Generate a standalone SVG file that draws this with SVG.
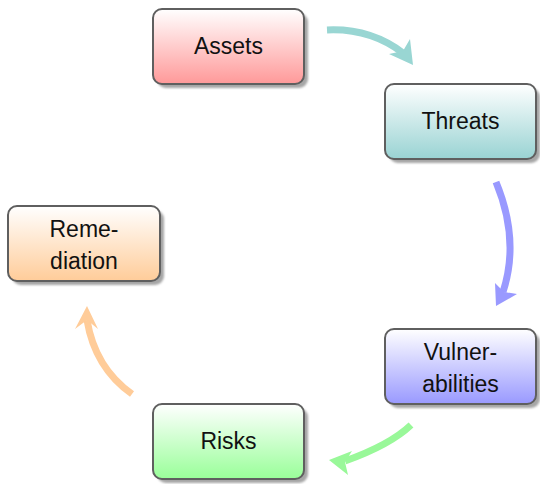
<svg xmlns="http://www.w3.org/2000/svg" width="540" height="484" viewBox="0 0 540 484">
<defs>
<linearGradient id="gRed" x1="0" y1="0" x2="0" y2="1"><stop offset="0" stop-color="#ffffff"/><stop offset="1" stop-color="#ff9999"/></linearGradient>
<linearGradient id="gTeal" x1="0" y1="0" x2="0" y2="1"><stop offset="0" stop-color="#ffffff"/><stop offset="1" stop-color="#99d3d3"/></linearGradient>
<linearGradient id="gBlue" x1="0" y1="0" x2="0" y2="1"><stop offset="0" stop-color="#ffffff"/><stop offset="1" stop-color="#9999ff"/></linearGradient>
<linearGradient id="gGreen" x1="0" y1="0" x2="0" y2="1"><stop offset="0" stop-color="#ffffff"/><stop offset="1" stop-color="#99ff99"/></linearGradient>
<linearGradient id="gOrange" x1="0" y1="0" x2="0" y2="1"><stop offset="0" stop-color="#ffffff"/><stop offset="1" stop-color="#ffcc99"/></linearGradient>
<filter id="blur" x="-10%" y="-10%" width="120%" height="120%"><feGaussianBlur stdDeviation="0.8"/></filter>
</defs>
<style>
.shadow{fill:#a6a6a6;filter:url(#blur)}
.box{stroke:#5f5f5f;stroke-width:2}
.lbl{font-family:"Liberation Sans",Arial,sans-serif;font-size:23px;fill:#111;text-anchor:middle}
.shaft{fill:none;stroke-width:7;stroke-linecap:butt}
</style>
<g id="connectors">
<g id="e1">
<path class="shaft" d="M327,30 Q370,28 403,53" stroke="#99d6d3"/>
<polygon points="413,65 389,54 403,51 410,39" fill="#99d6d3"/>
</g>
<g id="e2">
<path class="shaft" d="M496,182 Q520,240 503,292" stroke="#9999ff"/>
<polygon points="496,306 495,283 504,292 517,294" fill="#9999ff"/>
</g>
<g id="e3">
<path class="shaft" d="M411,425 Q390,445 345,461" stroke="#99f899"/>
<polygon points="329,460 352,451 345,462 348,475" fill="#99f899"/>
</g>
<g id="e4">
<path class="shaft" d="M132,394 Q95,368 87,320" stroke="#ffcc99"/>
<polygon points="87,306 75,329 87,320 98,329" fill="#ffcc99"/>
</g>
</g>
<g id="assets">
<rect class="shadow" x="157" y="13" width="151" height="75" rx="9"/>
<rect class="box" x="153" y="9" width="151" height="75" rx="9" fill="url(#gRed)"/>
<text class="lbl" x="228.5" y="54">Assets</text>
</g>
<g id="threats">
<rect class="shadow" x="389" y="88" width="151" height="75" rx="9"/>
<rect class="box" x="385" y="84" width="151" height="75" rx="9" fill="url(#gTeal)"/>
<text class="lbl" x="460.5" y="129">Threats</text>
</g>
<g id="vulnerabilities">
<rect class="shadow" x="389" y="333" width="151" height="75" rx="9"/>
<rect class="box" x="385" y="329" width="151" height="75" rx="9" fill="url(#gBlue)"/>
<text class="lbl" x="460.5" y="360">Vulner-</text>
<text class="lbl" x="460.5" y="391.5">abilities</text>
</g>
<g id="risks">
<rect class="shadow" x="157" y="408" width="151" height="75" rx="9"/>
<rect class="box" x="153" y="404" width="151" height="75" rx="9" fill="url(#gGreen)"/>
<text class="lbl" x="228.5" y="449">Risks</text>
</g>
<g id="remediation">
<rect class="shadow" x="12" y="210" width="152" height="75" rx="9"/>
<rect class="box" x="8" y="206" width="152" height="75" rx="9" fill="url(#gOrange)"/>
<text class="lbl" x="84" y="237">Reme-</text>
<text class="lbl" x="84" y="269">diation</text>
</g>
</svg>
